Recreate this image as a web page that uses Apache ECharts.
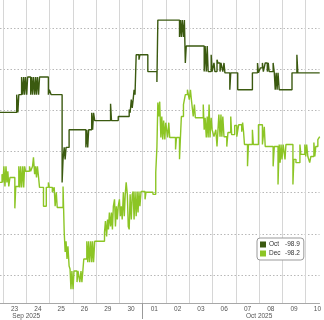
<!DOCTYPE html>
<html><head><meta charset="utf-8">
<script src="https://cdn.jsdelivr.net/npm/echarts@6/dist/echarts.min.js"></script>
<style>html,body{margin:0;padding:0;background:#fff}#c{width:324px;height:320px}</style>
</head><body><div id="c"></div>
<script>
const dayLabels = ['23','24','25','26','29','30','01','02','03','06','07','08','09','10'];
const dayPos = [0.5,1.5,2.5,3.5,4.5,5.5,6.5,7.5,8.5,9.5,10.5,11.5,12.5,13.5];
const dayBounds = [0,1,2,3,4,5,6,7,8,9,10,11,12,13];
const monthLabels = ['Sep 2025','Oct 2025'];
const monthPos = [1, 11];
const monthBreak = [6];
const levelTicks = [1,2,3,4,5,6,7];
const seriesNames = ['Oct','Dec'];
const legendValues = ['-98.9','-98.2'];

const octData = [
[-0.13,4.95],[0.59,5.38],[0.64,4.95],[0.68,5.38],
[0.80,5.81],[0.85,5.38],[0.89,5.81],[0.93,5.38],[0.97,5.81],[1.02,5.38],[1.06,5.81],
[1.19,5.38],[1.23,5.81],[1.27,5.38],[1.31,5.81],[1.36,5.38],[1.40,5.81],[1.44,5.38],[1.48,5.81],[1.53,5.38],[1.57,5.81],
[1.95,5.38],[1.99,5.50],[2.07,5.38],
[2.54,3.25],[2.58,3.81],[2.63,4.10],[2.67,3.81],[2.71,4.10],[2.84,4.53],
[3.56,4.10],[3.60,4.53],[3.64,4.10],[3.68,4.53],[3.81,4.94],[3.85,4.53],[3.89,4.94],[3.94,4.75],
[4.62,5.16],[4.66,4.75],[4.95,4.85],
[5.42,5.02],[5.46,4.94],[5.51,5.26],[5.55,5.06],[5.59,5.26],[5.63,5.50],[5.67,5.38],[5.72,6.35],
[5.84,6.23],[5.88,6.35],[6.22,5.94],[6.61,5.69],[6.65,7.19],
[7.58,6.78],[7.62,7.19],[7.66,6.78],[7.70,7.19],[7.75,6.78],[7.79,7.19],[7.83,6.15],[7.87,6.56],
[8.64,5.94],[8.68,6.56],[8.73,5.94],[8.77,6.56],[8.81,5.94],[8.94,6.35],[8.98,5.94],
[9.06,6.15],[9.10,5.94],[9.19,6.23],[9.23,6.15],[9.32,5.94],[9.36,6.15],[9.44,5.94],[9.49,6.15],[9.53,5.91],
[9.74,5.50],[9.78,5.91],[10.08,5.50],[10.71,5.91],[10.93,6.15],[10.97,5.91],[11.05,6.03],[11.14,6.15],[11.18,5.94],
[11.26,6.15],[11.35,5.94],[11.39,6.15],[11.43,5.94],[11.60,6.15],[11.65,5.91],[11.69,5.50],[11.73,5.91],[11.77,5.50],[11.81,5.91],[11.86,5.50],
[12.41,5.91],[12.62,6.35],[12.66,5.91],[13.60,5.91]
];

const decData = [
[-0.13,3.25],[-0.04,3.45],[0.00,3.25],[0.04,3.64],[0.085,3.15],[0.13,3.64],[0.17,3.25],[0.21,3.52],[0.25,3.15],[0.30,3.37],
[0.51,2.62],[0.55,3.15],[0.68,3.64],[0.72,3.13],[0.76,3.64],[0.80,3.13],[0.85,3.64],[0.89,3.13],[0.93,3.64],[0.97,3.52],
[1.14,3.64],[1.19,3.52],[1.27,3.64],[1.31,3.86],[1.36,3.45],[1.40,3.64],[1.44,3.37],[1.48,3.64],[1.53,3.37],[1.57,3.13],
[1.74,2.67],[1.86,3.13],[1.95,3.25],[1.99,3.13],[2.12,3.01],[2.20,3.13],[2.24,2.67],[2.29,3.01],[2.33,2.64],
[2.58,3.15],[2.63,2.04],[2.67,1.56],[2.71,1.82],[2.75,1.39],[2.79,1.70],[2.84,1.22],[2.88,1.15],[2.92,0.66],[2.96,1.10],[3.01,0.66],[3.05,1.10],
[3.18,0.83],[3.22,1.10],[3.30,0.83],[3.35,1.10],[3.39,0.83],[3.43,1.10],[3.47,1.39],[3.60,1.82],[3.64,1.31],[3.68,1.82],[3.72,1.31],[3.77,1.82],[3.81,1.31],[3.85,1.82],[3.89,1.31],[3.94,1.82],
[4.36,2.04],[4.40,2.31],[4.45,1.94],[4.49,2.35],[4.53,2.11],[4.57,2.52],[4.62,2.18],[4.66,2.52],[4.70,2.11],[4.74,2.67],[4.79,2.84],[4.83,2.18],[4.87,2.67],[4.91,2.35],[4.95,2.67],[5.00,2.84],[5.04,2.43],[5.08,2.67],[5.12,2.35],[5.17,3.01],[5.21,2.43],[5.25,2.96],[5.29,3.25],[5.34,2.96],[5.38,2.18],[5.42,2.11],[5.46,2.96],[5.51,2.35],[5.55,2.96],[5.59,3.03],[5.63,2.35],[5.67,3.03],[5.72,2.43],[5.76,3.03],[5.80,2.52],[5.84,3.03],[5.88,2.67],[5.93,3.03],
[6.10,2.84],[6.14,3.01],[6.44,2.96],[6.56,3.49],[6.61,4.10],[6.65,5.19],[6.69,4.85],[6.73,5.21],[6.78,4.34],[6.82,4.85],[6.86,4.29],[6.90,4.75],[6.95,4.29],[6.99,4.70],[7.07,4.34],[7.12,4.70],[7.16,4.34],
[7.41,4.05],[7.45,4.34],[7.58,3.81],[7.62,4.34],[7.66,4.85],[7.75,5.14],[7.83,5.38],[7.92,5.50],[8.00,5.26],[8.05,5.50],[8.09,5.26],[8.17,4.85],[8.22,5.14],[8.26,4.82],
[8.60,5.14],[8.64,4.53],[8.68,4.82],[8.73,4.34],[8.77,4.85],[8.81,4.34],[8.85,5.14],[8.89,4.34],[8.94,4.82],[8.98,4.53],
[9.06,4.36],[9.14,4.53],[9.19,4.12],[9.27,4.90],[9.32,4.36],[9.36,4.90],[9.40,4.36],[9.44,4.85],[9.49,4.36],[9.61,4.12],[9.66,4.46],[9.78,4.85],[9.82,4.41],[9.95,4.63],[10.04,4.36],[10.12,4.65],[10.25,4.48],[10.29,4.70],[10.33,4.48],[10.37,4.17],[10.50,3.64],[10.54,4.17],[10.71,4.53],[10.75,4.17],[10.97,4.65],[11.14,4.17],[11.22,4.60],[11.26,4.12],
[11.60,3.64],[11.65,4.12],[11.81,3.20],[11.86,4.17],[11.90,3.73],[11.94,4.17],[11.98,3.81],[12.03,4.17],[12.11,3.81],[12.15,4.17],[12.45,3.20],[12.49,3.81],[12.58,3.73],[12.75,4.17],[12.79,3.93],[12.96,4.17],[13.00,3.88],[13.04,4.17],[13.09,3.88],[13.17,3.73],[13.22,3.88],[13.35,4.22],[13.39,3.88],[13.43,4.12],[13.52,4.29],[13.60,4.36]
];

const colors = ['#3b5a10', '#8cc525'];
const FONT = 'Liberation Sans';
const X_MIN = -0.127, X_MAX = 13.593, Y_MIN = 0.3226, Y_MAX = 7.678;
const chart = echarts.init(document.getElementById('c'), null, {renderer: 'canvas'});
chart.setOption({
  animation: false,
  backgroundColor: '#fff',
  grid: {left: 0, right: 0, top: 0, bottom: 16},
  xAxis: [
    {type: 'value', min: X_MIN, max: X_MAX, position: 'bottom',
      axisLine: {show: true, lineStyle: {color: '#a8a8a8', width: 1}},
      axisTick: {show: true, inside: true, length: 304, customValues: dayBounds, lineStyle: {color: '#d6d6d6', width: 1}},
      axisLabel: {show: true, customValues: dayPos, fontSize: 6.5, fontFamily: FONT, color: '#555', margin: 3,
        formatter: v => dayLabels[Math.round(v - 0.5)] || ''},
      splitLine: {show: true, lineStyle: {color: '#d6d6d6', width: 1}}
    },
    {type: 'value', min: X_MIN, max: X_MAX, position: 'bottom',
      axisLine: {show: false},
      axisTick: {show: true, customValues: monthBreak, length: 16, lineStyle: {color: '#999', width: 1}},
      axisLabel: {show: true, customValues: monthPos, fontSize: 6.5, fontFamily: FONT, color: '#555', margin: 10,
        formatter: v => monthLabels[monthPos.indexOf(Math.round(v))] || ''},
      splitLine: {show: false}
    }
  ],
  yAxis: {type: 'value', min: Y_MIN, max: Y_MAX,
    axisLine: {show: false}, axisTick: {show: false, customValues: levelTicks}, axisLabel: {show: false},
    splitLine: {show: true, lineStyle: {color: '#b8b8b8', type: [1.5, 2], width: 1}}
  },
  legend: {
    orient: 'vertical', left: 257, top: 238,
    data: seriesNames, icon: 'rect', itemWidth: 6, itemHeight: 6, itemGap: 2,
    padding: [3, 4, 3, 3], borderColor: '#999', borderWidth: 1, borderRadius: 3, backgroundColor: '#fff',
    formatter: name => '{n|' + name + '}{v|' + legendValues[seriesNames.indexOf(name)] + '}',
    textStyle: {fontSize: 6.5, fontFamily: FONT, color: '#333', padding: [0,0,0,-2],
      rich: {n: {width: 16, fontSize: 6.5, fontFamily: FONT, color: '#333'}, v: {fontSize: 6.5, fontFamily: FONT, color: '#333'}}}
  },
  series: [
    {name: 'Dec', type: 'line', xAxisIndex: 0, step: 'end', data: decData,
      showSymbol: false, lineStyle: {color: colors[1], width: 1.4}, itemStyle: {color: colors[1]}},
    {name: 'Oct', type: 'line', xAxisIndex: 0, step: 'end', data: octData,
      showSymbol: false, lineStyle: {color: colors[0], width: 1.4}, itemStyle: {color: colors[0]}}
  ]
});
</script></body></html>
